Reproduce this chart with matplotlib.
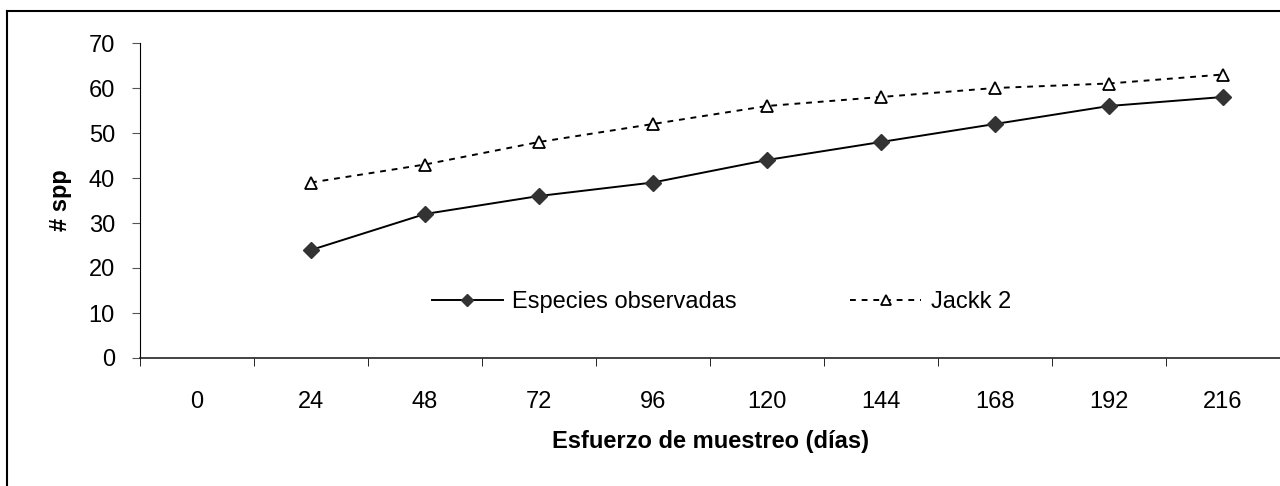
import matplotlib.pyplot as plt
from matplotlib.lines import Line2D
from matplotlib.ticker import FixedLocator

plt.rcParams["font.family"] = ["Liberation Sans", "DejaVu Sans"]

dias = ["0", "24", "48", "72", "96", "120", "144", "168", "192", "216"]
especies_observadas = [None, 24, 32, 36, 39, 44, 48, 52, 56, 58]
jackk2 = [None, 39, 43, 48, 52, 56, 58, 60, 61, 63]

fig = plt.figure(figsize=(12.8, 4.86), dpi=100)
ax = fig.add_axes([140 / 1280, 1 - 358 / 486, 1 - 140 / 1280, (358 - 43) / 486])

x = list(range(len(dias)))
xo = [i for i, v in zip(x, especies_observadas) if v is not None]
yo = [v for v in especies_observadas if v is not None]
xj = [i for i, v in zip(x, jackk2) if v is not None]
yj = [v for v in jackk2 if v is not None]

ax.plot(xo, yo, color="black", lw=1.4, marker="D", markersize=8,
        markerfacecolor="#333333", markeredgecolor="#333333",
        label="Especies observadas")
ax.plot(xj, yj, color="black", lw=1.4, linestyle=(0, (3, 3)), marker="^",
        markersize=9, markerfacecolor="white", markeredgecolor="black",
        markeredgewidth=1.3, label="Jackk 2")

ax.set_xlim(-0.5, len(dias) - 0.5)
ax.set_ylim(0, 70)
ax.set_yticks(range(0, 71, 10))
ax.set_xticks(x)
ax.set_xticklabels(dias)
ax.xaxis.set_minor_locator(FixedLocator([i - 0.5 for i in x]))

ax.tick_params(axis="x", which="major", length=0, pad=24, labelsize=17)
ax.tick_params(axis="x", which="minor", length=6, direction="out", color="black")
ax.tick_params(axis="y", length=6, direction="out", pad=12, labelsize=17,
               color="#555555")

for s in ["top", "right"]:
    ax.spines[s].set_visible(False)
ax.spines["left"].set_color("black")
ax.spines["bottom"].set_color("#222222")
ax.spines["bottom"].set_linewidth(1.2)

ax.set_ylabel("# spp", fontsize=17, fontweight="bold", labelpad=12)
ax.set_xlabel("Esfuerzo de muestreo (días)", fontsize=17, fontweight="bold",
              labelpad=12)

ax.legend(loc="center", bbox_to_anchor=(0.51, 0.178), ncol=2, frameon=False,
          fontsize=17, handlelength=3.0, handletextpad=0.4, columnspacing=4.8,
          markerscale=0.75)

# outer chart border (left and top edges visible)
fig.add_artist(Line2D([7 / 1280, 7 / 1280], [0, 1 - 11 / 486],
                      transform=fig.transFigure, color="black", lw=1.5))
fig.add_artist(Line2D([7 / 1280, 1], [1 - 11 / 486, 1 - 11 / 486],
                      transform=fig.transFigure, color="black", lw=1.5))

fig.savefig("out.png", dpi=100)
